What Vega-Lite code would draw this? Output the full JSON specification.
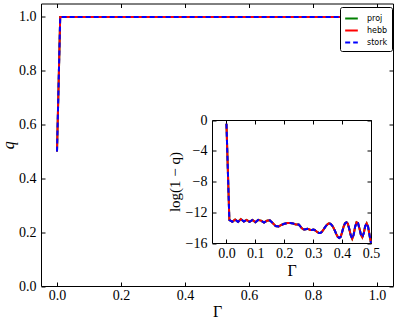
{
  "$schema": "https://vega.github.io/schema/vega-lite/v6.json",
  "width": 352,
  "height": 282.5,
  "autosize": {"type": "none"},
  "padding": {"left": 41, "top": 3.5, "right": 4, "bottom": 34},
  "background": "white",
  "config": {
    "view": {"stroke": null},
    "axis": {
      "grid": false,
      "domainColor": "black",
      "tickColor": "black",
      "labelColor": "black",
      "titleColor": "black",
      "labelFont": "Liberation Serif",
      "titleFont": "Liberation Serif",
      "labelFontSize": 14,
      "titleFontSize": 16,
      "titleFontWeight": "normal",
      "tickSize": -4,
      "domainWidth": 1,
      "tickWidth": 1,
      "labelFlush": false,
      "labelOverlap": false
    }
  },
  "datasets": {
    "main": [
      {"G": 0.0, "proj": 0.5, "hebb": 0.5, "stork": 0.5},
      {"G": 0.01, "proj": 1.0, "hebb": 1.0, "stork": 1.0},
      {"G": 0.05, "proj": 1.0, "hebb": 1.0, "stork": 1.0},
      {"G": 0.1, "proj": 1.0, "hebb": 1.0, "stork": 1.0},
      {"G": 0.2, "proj": 1.0, "hebb": 1.0, "stork": 1.0},
      {"G": 0.3, "proj": 1.0, "hebb": 1.0, "stork": 1.0},
      {"G": 0.4, "proj": 1.0, "hebb": 1.0, "stork": 1.0},
      {"G": 0.5, "proj": 1.0, "hebb": 1.0, "stork": 1.0},
      {"G": 0.6, "proj": 1.0, "hebb": 1.0, "stork": 1.0},
      {"G": 0.7, "proj": 1.0, "hebb": 1.0, "stork": 1.0},
      {"G": 0.8, "proj": 1.0, "hebb": 1.0, "stork": 1.0},
      {"G": 0.9, "proj": 1.0, "hebb": 1.0, "stork": 1.0},
      {"G": 1.0, "proj": 1.0, "hebb": 1.0, "stork": 1.0}
    ],
    "inset": [
      {"G": 0.0, "proj": -0.5, "hebb": -0.5, "stork": -0.5},
      {"G": 0.01, "proj": -13.0, "hebb": -13.0, "stork": -13.0},
      {"G": 0.02, "proj": -13.25, "hebb": -13.25, "stork": -13.25},
      {"G": 0.03, "proj": -12.95, "hebb": -12.95, "stork": -12.95},
      {"G": 0.04, "proj": -13.25, "hebb": -13.25, "stork": -13.25},
      {"G": 0.05, "proj": -12.9, "hebb": -12.9, "stork": -12.9},
      {"G": 0.06, "proj": -13.2, "hebb": -13.2, "stork": -13.2},
      {"G": 0.07, "proj": -13.0, "hebb": -13.0, "stork": -13.0},
      {"G": 0.08, "proj": -13.25, "hebb": -13.25, "stork": -13.25},
      {"G": 0.09, "proj": -13.0, "hebb": -13.0, "stork": -13.0},
      {"G": 0.1, "proj": -13.3, "hebb": -13.3, "stork": -13.3},
      {"G": 0.11, "proj": -13.0, "hebb": -13.0, "stork": -13.0},
      {"G": 0.12, "proj": -13.1, "hebb": -13.1, "stork": -13.1},
      {"G": 0.13, "proj": -13.35, "hebb": -13.35, "stork": -13.35},
      {"G": 0.14, "proj": -13.1, "hebb": -13.1, "stork": -13.1},
      {"G": 0.15, "proj": -13.05, "hebb": -13.05, "stork": -13.05},
      {"G": 0.16, "proj": -13.4, "hebb": -13.4, "stork": -13.4},
      {"G": 0.17, "proj": -13.8, "hebb": -13.8, "stork": -13.8},
      {"G": 0.18, "proj": -13.85, "hebb": -13.85, "stork": -13.85},
      {"G": 0.19, "proj": -13.65, "hebb": -13.65, "stork": -13.65},
      {"G": 0.2, "proj": -13.5, "hebb": -13.5, "stork": -13.5},
      {"G": 0.21, "proj": -13.4, "hebb": -13.4, "stork": -13.4},
      {"G": 0.22, "proj": -13.4, "hebb": -13.4, "stork": -13.4},
      {"G": 0.23, "proj": -13.45, "hebb": -13.45, "stork": -13.45},
      {"G": 0.24, "proj": -13.6, "hebb": -13.6, "stork": -13.6},
      {"G": 0.25, "proj": -13.6, "hebb": -13.6, "stork": -13.6},
      {"G": 0.255, "proj": -13.8, "hebb": -13.8, "stork": -13.8},
      {"G": 0.26, "proj": -14.05, "hebb": -14.05, "stork": -14.05},
      {"G": 0.265, "proj": -14.2, "hebb": -14.2, "stork": -14.2},
      {"G": 0.27, "proj": -14.25, "hebb": -14.25, "stork": -14.25},
      {"G": 0.275, "proj": -14.2, "hebb": -14.2, "stork": -14.2},
      {"G": 0.28, "proj": -14.15, "hebb": -14.15, "stork": -14.15},
      {"G": 0.285, "proj": -14.2, "hebb": -14.2, "stork": -14.2},
      {"G": 0.29, "proj": -14.3, "hebb": -14.3, "stork": -14.3},
      {"G": 0.295, "proj": -14.3, "hebb": -14.3, "stork": -14.3},
      {"G": 0.3, "proj": -14.25, "hebb": -14.25, "stork": -14.25},
      {"G": 0.305, "proj": -14.3, "hebb": -14.3, "stork": -14.3},
      {"G": 0.31, "proj": -14.45, "hebb": -14.45, "stork": -14.45},
      {"G": 0.315, "proj": -14.6, "hebb": -14.6, "stork": -14.6},
      {"G": 0.32, "proj": -14.7, "hebb": -14.7, "stork": -14.7},
      {"G": 0.325, "proj": -14.7, "hebb": -14.7, "stork": -14.7},
      {"G": 0.33, "proj": -14.55, "hebb": -14.55, "stork": -14.55},
      {"G": 0.335, "proj": -14.3, "hebb": -14.3, "stork": -14.3},
      {"G": 0.34, "proj": -14.0, "hebb": -14.0, "stork": -14.0},
      {"G": 0.345, "proj": -13.75, "hebb": -13.75, "stork": -13.75},
      {"G": 0.35, "proj": -13.55, "hebb": -13.55, "stork": -13.55},
      {"G": 0.355, "proj": -13.45, "hebb": -13.45, "stork": -13.45},
      {"G": 0.36, "proj": -13.5, "hebb": -13.5, "stork": -13.5},
      {"G": 0.365, "proj": -13.7, "hebb": -13.7, "stork": -13.7},
      {"G": 0.37, "proj": -14.0, "hebb": -14.0, "stork": -14.0},
      {"G": 0.375, "proj": -14.4, "hebb": -14.4, "stork": -14.4},
      {"G": 0.38, "proj": -14.85, "hebb": -14.85, "stork": -14.85},
      {"G": 0.385, "proj": -15.2, "hebb": -15.2, "stork": -15.2},
      {"G": 0.39, "proj": -15.35, "hebb": -15.35, "stork": -15.35},
      {"G": 0.395, "proj": -15.2, "hebb": -15.2, "stork": -15.2},
      {"G": 0.4, "proj": -14.6, "hebb": -14.6, "stork": -14.6},
      {"G": 0.405, "proj": -13.9, "hebb": -13.9, "stork": -13.9},
      {"G": 0.41, "proj": -13.45, "hebb": -13.45, "stork": -13.45},
      {"G": 0.415, "proj": -13.3, "hebb": -13.3, "stork": -13.3},
      {"G": 0.42, "proj": -13.5, "hebb": -13.5, "stork": -13.5},
      {"G": 0.425, "proj": -14.2, "hebb": -14.2, "stork": -14.2},
      {"G": 0.43, "proj": -15.0, "hebb": -15.0, "stork": -15.0},
      {"G": 0.435, "proj": -15.45, "hebb": -15.45, "stork": -15.45},
      {"G": 0.44, "proj": -14.9, "hebb": -14.9, "stork": -14.9},
      {"G": 0.445, "proj": -13.9, "hebb": -13.9, "stork": -13.9},
      {"G": 0.45, "proj": -13.3, "hebb": -13.3, "stork": -13.3},
      {"G": 0.455, "proj": -13.4, "hebb": -13.4, "stork": -13.4},
      {"G": 0.46, "proj": -14.1, "hebb": -14.1, "stork": -14.1},
      {"G": 0.465, "proj": -14.9, "hebb": -14.9, "stork": -14.9},
      {"G": 0.47, "proj": -15.25, "hebb": -15.25, "stork": -15.25},
      {"G": 0.475, "proj": -14.7, "hebb": -14.7, "stork": -14.7},
      {"G": 0.48, "proj": -13.8, "hebb": -13.8, "stork": -13.8},
      {"G": 0.485, "proj": -13.45, "hebb": -13.45, "stork": -13.45},
      {"G": 0.49, "proj": -13.9, "hebb": -13.9, "stork": -13.9},
      {"G": 0.495, "proj": -15.0, "hebb": -15.0, "stork": -15.0},
      {"G": 0.5, "proj": -16.0, "hebb": -16.0, "stork": -16.0}
    ]
  },
  "layer": [
    {
      "data": {"name": "main"},
      "resolve": {"axis": {"x": "independent", "y": "independent"}},
      "layer": [
        {
          "mark": {"type": "line", "strokeWidth": 2},
          "encoding": {
            "x": {"field": "G", "type": "quantitative",
              "scale": {"domain": [-0.05, 1.05], "nice": false, "zero": false},
              "axis": {"orient": "bottom", "values": [0, 0.2, 0.4, 0.6, 0.8, 1.0], "format": ".1f", "labelPadding": 6, "title": "Γ", "titlePadding": 1}},
            "y": {"field": "proj", "type": "quantitative",
              "scale": {"domain": [0, 1.05], "nice": false, "zero": false},
              "axis": {"orient": "left", "values": [0, 0.2, 0.4, 0.6, 0.8, 1.0], "format": ".1f", "labelPadding": 9, "title": "q", "titleFontStyle": "italic", "titlePadding": 2}},
            "color": {"datum": "proj", "type": "nominal",
              "scale": {"domain": ["proj", "hebb", "stork"], "range": ["#008000", "#ff0000", "#0000ff"]},
              "legend": {"title": null, "orient": "none", "legendX": 299, "legendY": 3.5, "symbolType": "stroke", "symbolSize": 160, "symbolStrokeWidth": 2, "labelFont": "DejaVu Sans", "labelFontSize": 8, "labelColor": "black", "labelOffset": 8, "rowPadding": 0, "padding": 4, "strokeColor": "black", "fillColor": "white", "cornerRadius": 2}},
            "strokeDash": {"datum": "proj", "type": "nominal",
              "scale": {"domain": ["proj", "hebb", "stork"], "range": [[1, 0], [1, 0], [5, 3]]},
              "legend": {"title": null, "orient": "none", "legendX": 299, "legendY": 3.5, "symbolType": "stroke", "symbolSize": 160, "symbolStrokeWidth": 2, "labelFont": "DejaVu Sans", "labelFontSize": 8, "labelColor": "black", "labelOffset": 8, "rowPadding": 0, "padding": 4, "strokeColor": "black", "fillColor": "white", "cornerRadius": 2}}
          }
        },
        {
          "mark": {"type": "line", "strokeWidth": 2},
          "encoding": {
            "x": {"field": "G", "type": "quantitative",
              "axis": {"orient": "top", "values": [0, 0.2, 0.4, 0.6, 0.8, 1.0], "labels": false, "title": null}},
            "y": {"field": "hebb", "type": "quantitative",
              "axis": {"orient": "right", "values": [0, 0.2, 0.4, 0.6, 0.8, 1.0], "labels": false, "title": null}},
            "color": {"datum": "hebb", "type": "nominal"},
            "strokeDash": {"datum": "hebb", "type": "nominal"}
          }
        },
        {
          "mark": {"type": "line", "strokeWidth": 2},
          "encoding": {
            "x": {"field": "G", "type": "quantitative", "axis": null},
            "y": {"field": "stork", "type": "quantitative", "axis": null},
            "color": {"datum": "stork", "type": "nominal"},
            "strokeDash": {"datum": "stork", "type": "nominal"}
          }
        }
      ]
    },
    {
      "data": {"name": "inset"},
      "resolve": {"axis": {"x": "independent", "y": "independent"}},
      "layer": [
        {
          "mark": {"type": "line", "strokeWidth": 2},
          "encoding": {
            "x": {"field": "G", "type": "quantitative",
              "scale": {"domain": [-0.05, 0.5], "nice": false, "zero": false, "range": [171, 330]},
              "axis": {"orient": "bottom", "offset": -43, "values": [0, 0.1, 0.2, 0.3, 0.4, 0.5], "format": ".1f", "labelPadding": 7, "title": "Γ", "titlePadding": 2}},
            "y": {"field": "proj", "type": "quantitative",
              "scale": {"domain": [-16, 0], "nice": false, "zero": false, "range": [239.5, 116.5]},
              "axis": {"orient": "left", "offset": -171, "values": [0, -4, -8, -12, -16], "format": "d", "labelPadding": 9, "title": "log(1 − q)", "titleFontSize": 15, "titlePadding": 3}},
            "color": {"datum": "proj", "type": "nominal"},
            "strokeDash": {"datum": "proj", "type": "nominal"}
          }
        },
        {
          "mark": {"type": "line", "strokeWidth": 2},
          "encoding": {
            "x": {"field": "G", "type": "quantitative",
              "axis": {"orient": "top", "offset": -116.5, "values": [0, 0.1, 0.2, 0.3, 0.4, 0.5], "labels": false, "title": null}},
            "y": {"field": "hebb", "type": "quantitative",
              "axis": {"orient": "right", "offset": -22, "values": [0, -4, -8, -12, -16], "labels": false, "title": null}},
            "color": {"datum": "hebb", "type": "nominal"},
            "strokeDash": {"datum": "hebb", "type": "nominal"}
          }
        },
        {
          "mark": {"type": "line", "strokeWidth": 2},
          "encoding": {
            "x": {"field": "G", "type": "quantitative", "axis": null},
            "y": {"field": "stork", "type": "quantitative", "axis": null},
            "color": {"datum": "stork", "type": "nominal"},
            "strokeDash": {"datum": "stork", "type": "nominal"}
          }
        }
      ]
    }
  ],
  "resolve": {"scale": {"x": "independent", "y": "independent"}}
}
